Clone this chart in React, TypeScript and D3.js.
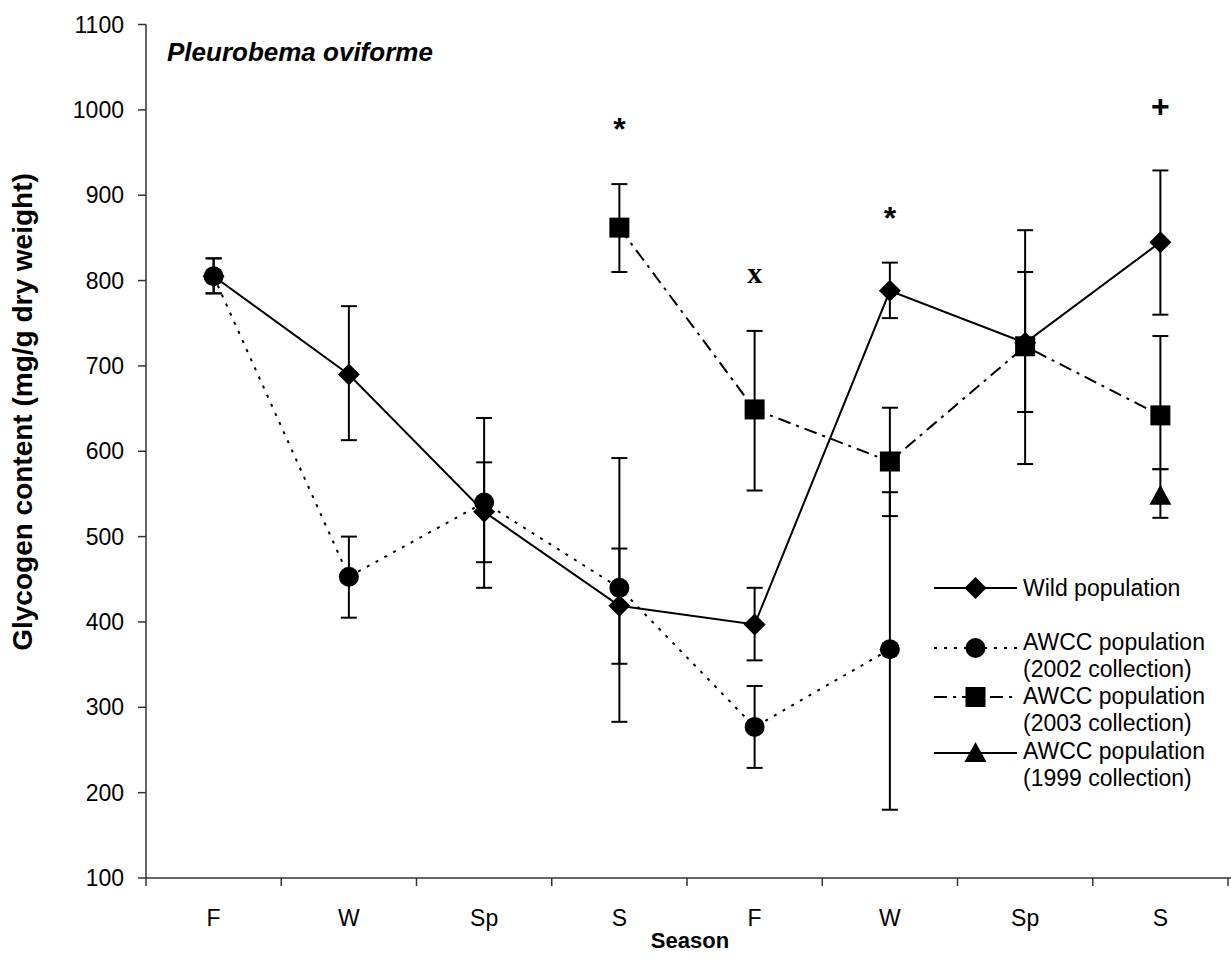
import React from "react";
import * as d3 from "d3";

const categories = ["F", "W", "Sp", "S", "F", "W", "Sp", "S"];
const yTicks = [100, 200, 300, 400, 500, 600, 700, 800, 900, 1000, 1100];

const wildMean = [805, 690, 529, 419, 397, 788, 727, 845];
const wildLow = [785, 613, 470, 351, 355, 756, 646, 760];
const wildHigh = [826, 770, 587, 486, 440, 821, 810, 929];

const awcc2002Mean = [805, 453, 540, 440, 277, 368, null, null];
const awcc2002Low = [785, 405, 440, 283, 229, 180, null, null];
const awcc2002High = [826, 500, 639, 592, 325, 552, null, null];

const awcc2003Mean = [null, null, null, 862, 649, 588, 723, 642];
const awcc2003Low = [null, null, null, 810, 554, 524, 585, 579];
const awcc2003High = [null, null, null, 913, 741, 651, 859, 735];

const awcc1999Mean = [null, null, null, null, null, null, null, 548];
const awcc1999Low = [null, null, null, null, null, null, null, 522];
const awcc1999High = [null, null, null, null, null, null, null, 579];

const annotationIdx = [3, 4, 5, 7];
const annotationText = ["*", "x", "*", "+"];
const annotationValue = [987, 807, 883, 1003];

const W = 1231;
const H = 959;
const SANS = "'Liberation Sans', Arial, Helvetica, sans-serif";
const SERIF = "'Liberation Serif', 'Times New Roman', serif";

type Num = number | null;

const series = [
  { name: ["Wild population"], mean: wildMean, low: wildLow, high: wildHigh, marker: "diamond", dash: "none", legendY: 588, textY: [588] },
  { name: ["AWCC population", "(2002 collection)"], mean: awcc2002Mean, low: awcc2002Low, high: awcc2002High, marker: "circle", dash: "3,7", legendY: 648, textY: [642, 669] },
  { name: ["AWCC population", "(2003 collection)"], mean: awcc2003Mean, low: awcc2003Low, high: awcc2003High, marker: "square", dash: "13,6,3,6", legendY: 697, textY: [696, 723] },
  { name: ["AWCC population", "(1999 collection)"], mean: awcc1999Mean, low: awcc1999Low, high: awcc1999High, marker: "triangle", dash: "none", legendY: 753, textY: [751, 778] },
];

function Marker({ type, cx, cy }: { type: string; cx: number; cy: number }) {
  if (type === "diamond") {
    const r = 11;
    return <path d={`M${cx},${cy - r}L${cx + r},${cy}L${cx},${cy + r}L${cx - r},${cy}Z`} fill="#000" />;
  }
  if (type === "circle") return <circle cx={cx} cy={cy} r={10} fill="#000" />;
  if (type === "square") return <rect x={cx - 10} y={cy - 10} width={20} height={20} fill="#000" />;
  const s = 11;
  return <path d={`M${cx},${cy - s}L${cx + s},${cy + 9}L${cx - s},${cy + 9}Z`} fill="#000" />;
}

export default function App() {
  const x = d3.scaleBand<number>().domain(d3.range(categories.length)).range([146, 1228]);
  const y = d3.scaleLinear().domain([100, 1100]).range([878, 24.5]);
  const cx = (i: number) => (x(i) as number) + x.bandwidth() / 2;

  const line = d3
    .line<[number, Num]>()
    .defined((d) => d[1] !== null)
    .x((d) => cx(d[0]))
    .y((d) => y(d[1] as number));

  const capW = 8;

  return (
    <svg width={W} height={H} style={{ position: "absolute", left: 0, top: 0, background: "#fff" }}>
      <rect width={W} height={H} fill="#fff" />
      {/* axes */}
      <line x1={146} x2={146} y1={y(1100)} y2={y(100)} stroke="#333" strokeWidth={1.5} />
      <line x1={146} x2={1231} y1={y(100)} y2={y(100)} stroke="#333" strokeWidth={1.5} />
      {yTicks.map((t) => (
        <g key={t}>
          <line x1={138} x2={146} y1={y(t)} y2={y(t)} stroke="#333" strokeWidth={1.5} />
          <text x={124} y={y(t) + 8} textAnchor="end" fontFamily={SANS} fontSize={23} fill="#000">
            {t}
          </text>
        </g>
      ))}
      {d3.range(categories.length + 1).map((i) => {
        const xx = i < categories.length ? (x(i) as number) : 1228;
        return <line key={i} x1={xx} x2={xx} y1={y(100)} y2={y(100) + 8} stroke="#333" strokeWidth={1.5} />;
      })}
      {categories.map((c, i) => (
        <text key={i} x={cx(i)} y={926} textAnchor="middle" fontFamily={SANS} fontSize={23} fill="#000">
          {c}
        </text>
      ))}
      <text x={690} y={948} textAnchor="middle" fontFamily={SANS} fontSize={22} fontWeight="bold" fill="#000">
        Season
      </text>
      <text
        transform={`translate(32,${412}) rotate(-90)`}
        textAnchor="middle"
        fontFamily={SANS}
        fontSize={28}
        fontWeight="bold"
        fill="#000"
      >
        Glycogen content (mg/g dry weight)
      </text>
      <text x={167} y={61} fontFamily={SANS} fontSize={26} fontWeight="bold" fontStyle="italic" fill="#000">
        Pleurobema oviforme
      </text>

      {/* error bars */}
      {series.map((s, si) => (
        <g key={`e${si}`}>
          {s.mean.map((m, i) => {
            if (m === null || s.low[i] === null || s.high[i] === null) return null;
            const xx = cx(i);
            const y1 = y(s.low[i] as number);
            const y2 = y(s.high[i] as number);
            return (
              <g key={i} stroke="#000" strokeWidth={2}>
                <line x1={xx} x2={xx} y1={y1} y2={y2} />
                <line x1={xx - capW} x2={xx + capW} y1={y1} y2={y1} />
                <line x1={xx - capW} x2={xx + capW} y1={y2} y2={y2} />
              </g>
            );
          })}
        </g>
      ))}

      {/* lines and markers */}
      {series.map((s, si) => (
        <g key={`s${si}`}>
          <path
            d={line(s.mean.map((m, i) => [i, m] as [number, Num])) || ""}
            fill="none"
            stroke="#000"
            strokeWidth={2}
            strokeDasharray={s.dash === "none" ? undefined : s.dash}
          />
          {s.mean.map((m, i) => (m === null ? null : <Marker key={i} type={s.marker} cx={cx(i)} cy={y(m)} />))}
        </g>
      ))}

      {/* annotations */}
      {annotationIdx.map((idx, k) => {
        const t = annotationText[k];
        const isX = t === "x";
        const off = t === "*" ? 19 : t === "+" ? 10 : 8;
        return (
          <text
            key={k}
            x={cx(idx)}
            y={y(annotationValue[k]) + off}
            textAnchor="middle"
            fontFamily={isX ? SERIF : SANS}
            fontWeight="bold"
            fontSize={isX ? 30 : 32}
            fill="#000"
          >
            {t}
          </text>
        );
      })}

      {/* legend */}
      {series.map((s, si) => (
        <g key={`l${si}`}>
          <line
            x1={934}
            x2={1017}
            y1={s.legendY}
            y2={s.legendY}
            stroke="#000"
            strokeWidth={2}
            strokeDasharray={s.dash === "none" ? undefined : s.dash}
          />
          <Marker type={s.marker} cx={975.5} cy={s.legendY} />
          {s.name.map((n, j) => (
            <text key={j} x={1023} y={s.textY[j] + 8} fontFamily={SANS} fontSize={23} fill="#000">
              {n}
            </text>
          ))}
        </g>
      ))}
    </svg>
  );
}
